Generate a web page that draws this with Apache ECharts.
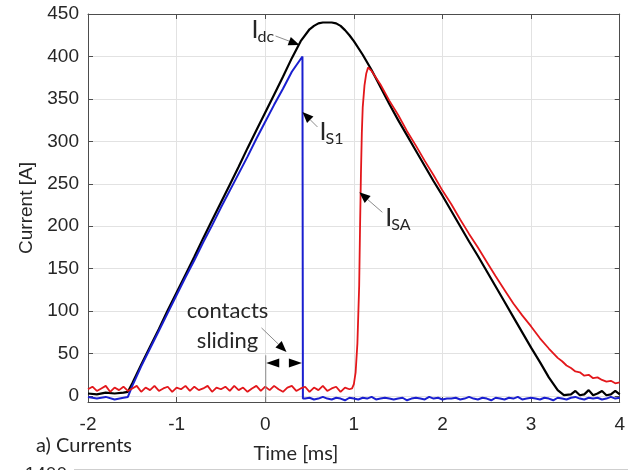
<!DOCTYPE html>
<html>
<head>
<meta charset="utf-8">
<script src="https://cdn.jsdelivr.net/npm/echarts@6/dist/echarts.min.js"></script>
<style>
  html, body { margin: 0; padding: 0; background: #ffffff; }
  #chart { width: 628px; height: 470px; }
</style>
</head>
<body>
<div id="chart"></div>
<script>
// Tick values for both axes
const xTicks = [-2, -1, 0, 1, 2, 3, 4];
const yTicks = [0, 50, 100, 150, 200, 250, 300, 350, 400, 450];

// I_dc : total DC current (black)
const tIdc = [-2, -1.9, -1.8, -1.7, -1.6, -1.55,
  -1.5, -1.4, -1.3, -1.2, -1.1, -1.0, -0.9, -0.8, -0.7, -0.6, -0.5, -0.4, -0.3, -0.2, -0.1, 0,
  0.1, 0.2, 0.3, 0.4, 0.5,
  0.55, 0.6, 0.65, 0.7, 0.75, 0.8, 0.85, 0.9, 0.95, 1.0,
  1.1, 1.2, 1.3, 1.4, 1.5, 1.6, 1.7, 1.8, 1.9, 2.0, 2.1, 2.2, 2.3, 2.4, 2.5, 2.6, 2.7, 2.8, 2.9, 3.0, 3.1, 3.2, 3.3,
  3.37,
  3.45, 3.5, 3.55, 3.6, 3.65, 3.7, 3.75, 3.8, 3.85, 3.9, 3.95, 4.0];
const iIdc = [3, 2, 4, 3, 4, 5,
  15, 37, 58, 79, 101, 122, 143, 164, 186, 207, 228, 249, 270, 292, 313, 334,
  355, 376, 398, 418, 432,
  436, 439, 440, 440, 440, 439, 436, 431, 425, 418,
  402, 384, 364, 344, 325, 307, 289, 271, 253, 236, 218, 200, 182, 165, 147, 129, 111, 93, 75, 57, 40, 22, 7,
  1,
  2, 6, 1, 2, 7, 1, 3, 6, 1, 2, 6, 2];

// I_S1 : main switch current (blue)
const tIs1 = [-2, -1.9, -1.8, -1.7, -1.6, -1.55,
  -1.5, -1.4, -1.3, -1.2, -1.1, -1.0, -0.9, -0.8, -0.7, -0.6, -0.5, -0.4, -0.3, -0.2, -0.1, 0,
  0.1, 0.2, 0.3, 0.4, 0.42, 0.425,
  0.45, 0.5, 0.55, 0.6, 0.65, 0.7, 0.75, 0.8, 0.85,
  0.9, 0.95, 1.0, 1.05, 1.1, 1.15, 1.2, 1.25, 1.3,
  1.35, 1.4, 1.45, 1.5, 1.55, 1.6, 1.65, 1.7, 1.75,
  1.8, 1.85, 1.9, 1.95, 2.0, 2.05, 2.1, 2.15, 2.2,
  2.25, 2.3, 2.35, 2.4, 2.45, 2.5, 2.55, 2.6, 2.65,
  2.7, 2.75, 2.8, 2.85, 2.9, 2.95, 3.0, 3.05, 3.1,
  3.15, 3.2, 3.25, 3.3, 3.35, 3.4, 3.45, 3.5, 3.55,
  3.6, 3.65, 3.7, 3.75, 3.8, 3.85, 3.9, 3.95, 4.0];
const iIs1 = [-1, -3, -1, -4, -2, -1,
  12, 35, 56, 77, 98, 119, 140, 160, 181, 201, 222, 242, 262, 282, 303, 323,
  343, 362, 382, 397, 400, -3,
  -3, -2, -4, -3, -1, -3, -4, -2, -3,
  -5, -2, -3, -4, -2, -3, -1, -4, -3,
  -2, -3, -4, -3, -2, -5, -3, -2, -3,
  -4, -1, -3, -2, -4, -3, -3, -2, -4,
  -3, -1, -3, -4, -2, -3, -5, -2, -3,
  -4, -2, -3, -1, -4, -3, -2, -3, -4,
  -2, -3, -5, -2, -3, -4, -2, -1, -3,
  -4, -2, -3, -2, -4, -3, -1, -3, -2];

// I_SA : auxiliary switch current (red)
const tIsa = [-2, -1.95, -1.9, -1.85, -1.8, -1.75, -1.7, -1.65, -1.6, -1.55,
  -1.5, -1.45, -1.4, -1.35, -1.3, -1.25, -1.2, -1.15, -1.1, -1.05,
  -1.0, -0.95, -0.9, -0.85, -0.8, -0.75, -0.7, -0.65, -0.6, -0.55,
  -0.5, -0.45, -0.4, -0.35, -0.3, -0.25, -0.2, -0.15, -0.1, -0.05,
  0, 0.05, 0.1, 0.15, 0.2, 0.25, 0.3, 0.35, 0.4, 0.45,
  0.5, 0.55, 0.6, 0.65, 0.7, 0.75, 0.8, 0.85, 0.9, 0.95,
  0.98, 1.0, 1.02, 1.04, 1.06, 1.07, 1.08, 1.09, 1.1, 1.12, 1.14, 1.16,
  1.2, 1.3, 1.4, 1.5, 1.6, 1.7, 1.8, 1.9, 2.0, 2.1, 2.2, 2.3, 2.4, 2.5, 2.6, 2.7, 2.8, 2.9, 3.0, 3.1, 3.2,
  3.3, 3.35, 3.4, 3.45, 3.5, 3.55, 3.6, 3.65, 3.7, 3.75, 3.8, 3.85, 3.9, 3.95, 4.0];
const iIsa = [8, 11, 6, 9, 12, 5, 10, 7, 11, 6,
  9, 12, 5, 10, 7, 12, 6, 9, 11, 5,
  10, 8, 12, 6, 11, 7, 9, 12, 5, 10,
  8, 11, 6, 12, 7, 10, 5, 9, 12, 6,
  11, 7, 12, 8, 5, 10, 12, 6, 9, 11,
  5, 10, 7, 12, 6, 9, 11, 5, 10, 8,
  9, 14, 28, 62, 130, 200, 262, 310, 340, 366, 380, 387,
  383, 367, 348, 331, 312, 295, 277, 260, 242, 226, 208, 191, 175, 158, 141, 125, 109, 95, 82, 68, 56,
  45, 41, 36, 33, 29, 28, 24, 25, 21, 22, 19, 17, 18, 15, 16];

const zip = (t, v) => t.map((x, i) => [x, v[i]]);

const AXIS_COLOR = '#4d4d4d';
const GRID_COLOR = '#e2e2e2';
const TEXT_COLOR = '#262626';
const SANS = '"Liberation Sans", Arial, sans-serif';
const NOTE = 'Lato, "Open Sans", sans-serif';

const chart = echarts.init(document.getElementById('chart'), null, { renderer: 'canvas' });

const boxAxis = (extra) => Object.assign({
  type: 'value',
  axisLine: { show: true, onZero: false, lineStyle: { color: AXIS_COLOR, width: 1 } },
  axisTick: { show: true, inside: true, length: 5, lineStyle: { color: AXIS_COLOR, width: 1 } },
  axisLabel: { show: false },
  splitLine: { show: false }
}, extra);

chart.setOption({
  animation: false,
  backgroundColor: '#ffffff',
  grid: { left: 88, right: 7, top: 14, bottom: 68, containLabel: false },
  xAxis: [
    boxAxis({
      min: -2, max: 4, interval: 1, position: 'bottom',
      axisLabel: { show: true, fontSize: 19, color: TEXT_COLOR, fontFamily: SANS, margin: 13 },
      splitLine: { show: true, lineStyle: { color: GRID_COLOR, width: 1 } }
    }),
    boxAxis({ min: -2, max: 4, interval: 1, position: 'top' })
  ],
  yAxis: [
    boxAxis({
      min: -7, max: 450, position: 'left',
      axisTick: { show: true, inside: true, length: 5, customValues: yTicks, lineStyle: { color: AXIS_COLOR, width: 1 } },
      axisLabel: { show: true, customValues: yTicks, fontSize: 19, color: TEXT_COLOR, fontFamily: SANS, margin: 9 },
      splitLine: { show: true, lineStyle: { color: GRID_COLOR, width: 1 } },
      name: 'Current [A]', nameLocation: 'middle', nameGap: 50,
      nameTextStyle: { fontSize: 19, color: TEXT_COLOR, fontFamily: SANS }
    }),
    boxAxis({
      min: -7, max: 450, position: 'right',
      axisTick: { show: true, inside: true, length: 5, customValues: yTicks, lineStyle: { color: AXIS_COLOR, width: 1 } }
    })
  ],
  series: [
    {
      name: 'Idc', type: 'line', data: zip(tIdc, iIdc), showSymbol: false, z: 3,
      lineStyle: { color: '#000000', width: 2.2 }, itemStyle: { color: '#000000' }
    },
    {
      name: 'IS1', type: 'line', data: zip(tIs1, iIs1), showSymbol: false, z: 4,
      lineStyle: { color: '#1a1fd0', width: 2 }, itemStyle: { color: '#1a1fd0' }
    },
    {
      name: 'ISA', type: 'line', data: zip(tIsa, iIsa), showSymbol: false, z: 5,
      lineStyle: { color: '#e3171b', width: 1.8 }, itemStyle: { color: '#e3171b' }
    }
  ]
});

// Annotations, anchored to data coordinates
const px = (t, v) => chart.convertToPixel({ gridIndex: 0 }, [t, v]);

function arrow(head, dx, dy, len, hw) {
  const tail = [head[0] + dx, head[1] + dy];
  const L = Math.hypot(dx, dy);
  const ux = -dx / L, uy = -dy / L;
  const bx = head[0] - ux * len, by = head[1] - uy * len;
  return [
    { type: 'line', z: 100, shape: { x1: tail[0], y1: tail[1], x2: bx, y2: by },
      style: { stroke: '#8c8c8c', lineWidth: 1 } },
    { type: 'polygon', z: 101,
      shape: { points: [[head[0], head[1]], [bx - uy * hw, by + ux * hw], [bx + uy * hw, by - ux * hw]] },
      style: { fill: '#000000' } }
  ];
}

function head(tip, dirX, len, hw) {
  const bx = tip[0] - dirX * len;
  return { type: 'polygon', z: 101,
    shape: { points: [[tip[0], tip[1]], [bx, tip[1] - hw], [bx, tip[1] + hw]] },
    style: { fill: '#000000' } };
}

function label(x, y, text, size, family, align) {
  return { type: 'text', z: 102, x: x, y: y,
    style: { text: text, fontSize: size, fontFamily: family || NOTE, fill: TEXT_COLOR,
      align: align || 'left', verticalAlign: 'middle' } };
}

function subLabel(anchor, ox, oy, main, sub) {
  return [
    label(anchor[0] + ox, anchor[1] + oy, 'I', 25),
    label(anchor[0] + ox + 6, anchor[1] + oy + 7, sub, 16)
  ];
}

const pDc = px(0.387, 413.5);
const pS1 = px(0.42, 334.6);
const pSA = px(1.062, 240);
const pSlide = px(0.24, 52);
const pLeft = px(0, 39);
const pRight = px(0.425, 39);
const pTickTop = px(0, 48);
const pTickBot = px(0, -7);

const els = [];
els.push(...arrow(pDc, -24, -9, 11, 4.5));
els.push(...subLabel(pDc, -48, -15, 'I', 'dc'));
els.push(...arrow(pS1, 15, 15, 11, 4.5));
els.push(...subLabel(pS1, 17, 20, 'I', 'S1'));
els.push(...arrow(pSA, 23, 20, 11, 4.5));
els.push(...subLabel(pSA, 26, 26, 'I', 'SA'));
els.push(...arrow(pSlide, -25, -24, 11, 4.5));
els.push(label(pSlide[0] - 59, pSlide[1] - 41, 'contacts', 22, NOTE, 'center'));
els.push(label(pSlide[0] - 59, pSlide[1] - 11, 'sliding', 22, NOTE, 'center'));
els.push({ type: 'line', z: 100,
  shape: { x1: pTickTop[0] + 0.5, y1: pTickTop[1], x2: pTickBot[0] + 0.5, y2: pTickBot[1] },
  style: { stroke: '#8c8c8c', lineWidth: 1 } });
els.push(head([pLeft[0] + 1, pLeft[1]], -1, 13, 4.5));
els.push(head([pRight[0] - 1, pRight[1]], 1, 13, 4.5));

// Panel caption, x-axis title, and the edge of the panel below
els.push(label(84, 446, 'a) Currents', 20, NOTE, 'center'));
els.push(label(296, 454, 'Time [ms]', 20, NOTE, 'center'));
els.push({ type: 'text', z: 102, x: 67, y: 465,
  style: { text: '1400', fontSize: 19, fontFamily: SANS, fill: TEXT_COLOR, align: 'right', verticalAlign: 'top' } });
els.push({ type: 'line', z: 100, shape: { x1: 74, y1: 469.5, x2: 628, y2: 469.5 },
  style: { stroke: '#cfcfcf', lineWidth: 1 } });

chart.setOption({ graphic: { elements: els } });
</script>
</body>
</html>
